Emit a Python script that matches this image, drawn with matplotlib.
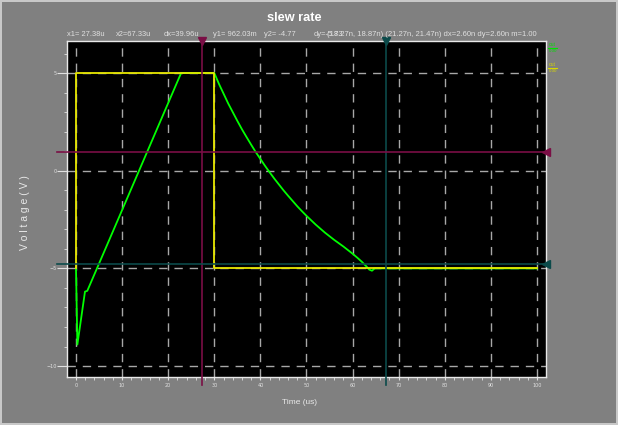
import matplotlib
matplotlib.use('Agg')
import matplotlib.pyplot as plt
from matplotlib.ticker import MultipleLocator

# signals (time in us, voltage in V)
time_in = [0, 0, 30, 30, 100]
v_in = [-5, 5, 5, -5, -5]

time_out = [0, 0.3, 1.95, 2.45, 7.0, 22.8, 30.0, 31, 32, 33, 34, 35, 36, 37, 38, 39,
            40, 41, 42, 43, 44, 45, 46, 47, 48, 49, 50, 52, 54, 56, 58, 60, 61, 62,
            63, 63.6, 64.2, 64.8, 100]
v_out = [-5, -8.9, -6.19, -6.15, -3.66, 5.0, 5.0, 4.45, 3.95, 3.45, 3.0, 2.55, 2.12,
         1.72, 1.33, 0.95, 0.6, 0.25, -0.08, -0.4, -0.7, -1.0, -1.28, -1.55, -1.82,
         -2.07, -2.31, -2.76, -3.17, -3.54, -3.88, -4.25, -4.45, -4.66, -4.9, -5.06,
         -5.12, -5.0, -5.0]

x1, x2 = 27.38, 67.33
y1, y2 = 0.962, -4.77
readout = ['x1= 27.38u', 'x2=67.33u', 'dx=39.96u', 'y1= 962.03m', 'y2= -4.77', 'dy=-5.73']
readout_x = [67, 116, 164, 213, 264, 314]
extra = '(18.27n, 18.87n) (21.27n, 21.47n) dx=2.60n dy=2.60n m=1.00'

fam = ['Liberation Sans Narrow', 'Liberation Sans', 'DejaVu Sans']
W, H = 618, 425
fig = plt.figure(figsize=(W / 100, H / 100), dpi=100, facecolor='#808080')
fig.patch.set_edgecolor('#c8c8c8')
fig.patch.set_linewidth(1.5)
ax = fig.add_axes([67 / W, 1 - 377 / H, (546 - 67) / W, (377 - 41) / H], facecolor='black')

ax.plot(time_out, v_out, color='#00ff00', lw=1.3, zorder=3)
ax.plot(time_in, v_in, color='#e8e800', lw=1.3, zorder=4)

ax.set_xlim(-1.95, 101.95)
ax.set_ylim(-10.56, 6.64)
ax.xaxis.set_major_locator(MultipleLocator(10))
ax.xaxis.set_minor_locator(MultipleLocator(2))
ax.yaxis.set_major_locator(MultipleLocator(5))
ax.yaxis.set_minor_locator(MultipleLocator(1))
ax.grid(True, which='major', color='#a8a8a8', lw=1, ls=(0, (6, 5)), zorder=1)
for s in ax.spines.values():
    s.set_color('#e8e8e8')
    s.set_linewidth(1)
ax.tick_params(which='major', colors='#e0e0e0', labelsize=3.5, width=0.8)
ax.tick_params(axis='y', which='major', length=7, pad=0.5)
ax.tick_params(axis='y', which='minor', length=2.5, color='#e0e0e0')
ax.tick_params(axis='x', which='major', length=2.5, pad=2)
ax.tick_params(axis='x', which='minor', length=2, color='#e0e0e0')

# cursors
magenta = '#7a0e45'
teal = '#0b4a4a'
for xc, c in [(x1, magenta), (x2, teal)]:
    ax.plot([xc, xc], [6.64, -10.98], color=c, lw=1.2, clip_on=False, zorder=5)
    ax.plot([xc], [6.64], marker='v', color=c, ms=6, clip_on=False, zorder=6)
for yc, c in [(y1, magenta), (y2, teal)]:
    ax.plot([-4.1, 101.95], [yc, yc], color=c, lw=1.2, clip_on=False, zorder=5)
    ax.plot([101.95], [yc], marker='<', color=c, ms=6, clip_on=False, zorder=6)

fig.text(294 / W, 1 - 18 / H, 'slew rate', color='white', fontsize=9.2, fontweight='bold',
         family=fam, ha='center', va='center')
for t, xp in zip(readout, readout_x):
    fig.text(xp / W, 1 - 34 / H, t, color='#e0e0e0', fontsize=5.4, family=fam, va='center')
fig.text(327 / W, 1 - 34 / H, extra, color='#e0e0e0', fontsize=5.5, family=fam, va='center')

fig.text(25 / W, 1 - 213 / H, 'V o l t a g e ( V )', color='#e8e8e8', fontsize=7.5,
         rotation=90, ha='center', va='center', family=fam)
fig.text(299 / W, 1 - 403 / H, 'Time (us)', color='#e8e8e8', fontsize=6,
         ha='center', va='center', family=fam)

# small trace labels at the right edge
for yp, c in [(45, '#00e000'), (65, '#d8d800')]:
    fig.text(549 / W, 1 - yp / H, 'out', color=c, fontsize=3.5, family=fam, va='center')
    fig.add_artist(plt.Line2D([548 / W, 557 / W], [1 - (yp + 3) / H] * 2, color=c, lw=0.8))
    fig.text(549 / W, 1 - (yp + 6) / H, '0.00', color=c, fontsize=3.2, family=fam, va='center')

fig.savefig('out.png', dpi=100, facecolor=fig.get_facecolor(), edgecolor=fig.patch.get_edgecolor())
